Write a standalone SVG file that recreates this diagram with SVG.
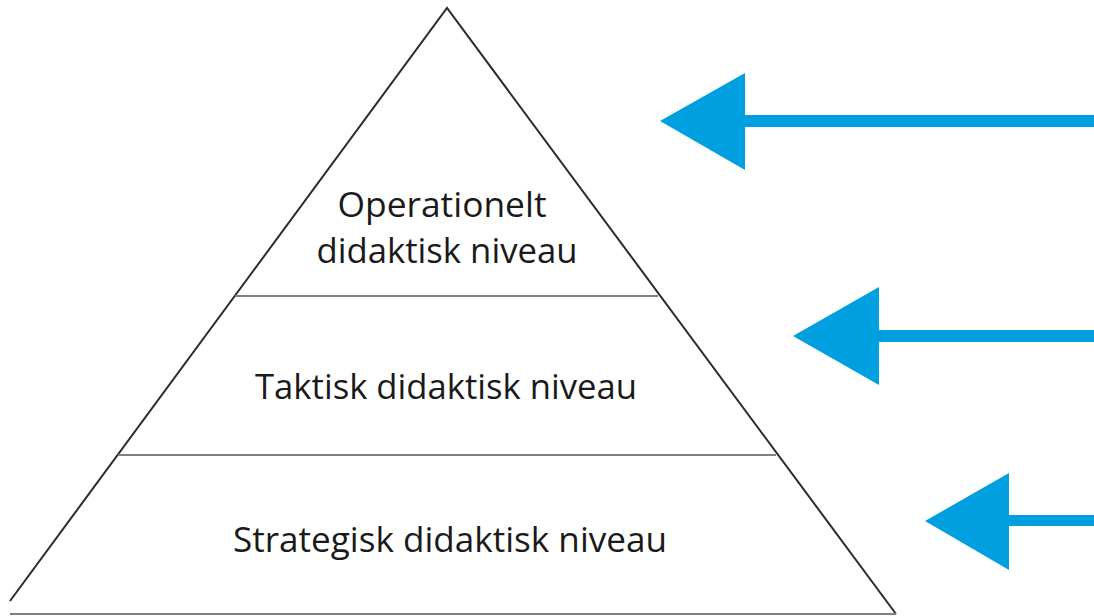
<svg xmlns="http://www.w3.org/2000/svg" width="1094" height="616" viewBox="0 0 1094 616">
<style>
.edge{stroke:#2b2b2b;stroke-width:2;fill:none}
.sep{stroke:#808080;stroke-width:2;fill:none}
.lbl{font-family:"Open Sans","Liberation Sans",sans-serif;font-size:35px;fill:#1a1a1a;text-anchor:middle}
.arr{fill:#009fe0}
</style>
<rect width="1094" height="616" fill="#ffffff"/>
<g id="pyramid">
<polyline class="edge" points="10,601 447,8 896,614"/>
<line class="sep" x1="10" y1="614" x2="896" y2="614"/>
<line class="sep" x1="235" y1="296" x2="658" y2="296"/>
<line class="sep" x1="118" y1="455" x2="776" y2="455"/>
</g>
<g id="node-operationelt">
<text class="lbl" x="442" y="217" textLength="209" lengthAdjust="spacingAndGlyphs">Operationelt</text>
<text class="lbl" x="447" y="263" textLength="261" lengthAdjust="spacingAndGlyphs">didaktisk niveau</text>
</g>
<g id="node-taktisk">
<text class="lbl" x="446" y="399" textLength="382" lengthAdjust="spacingAndGlyphs">Taktisk didaktisk niveau</text>
</g>
<g id="node-strategisk">
<text class="lbl" x="450" y="552" textLength="434" lengthAdjust="spacingAndGlyphs">Strategisk didaktisk niveau</text>
</g>
<g id="connectors">
<polygon class="arr" points="660,121 745,73 745,115 1094,115 1094,127 745,127 745,170"/>
<polygon class="arr" points="793,336 879,287 879,330 1094,330 1094,342 879,342 879,385"/>
<polygon class="arr" points="925,521 1009,473 1009,515 1094,515 1094,526 1009,526 1009,570"/>
</g>
</svg>
